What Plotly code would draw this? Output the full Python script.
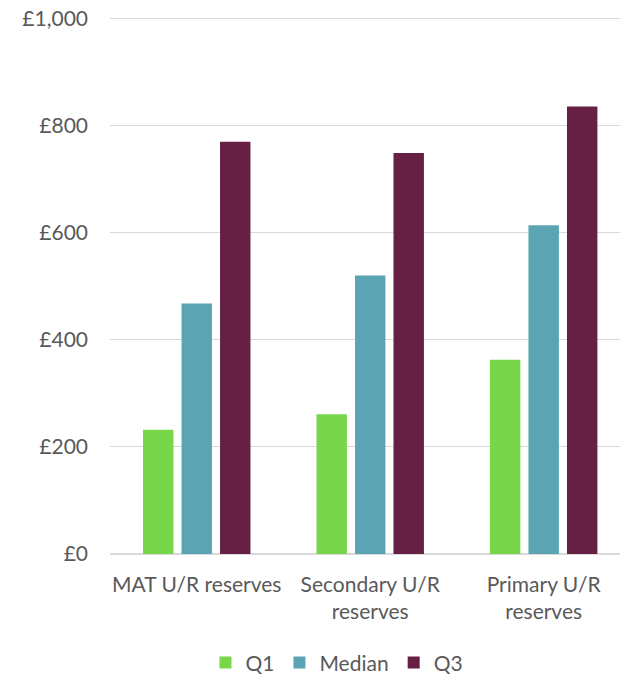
import plotly.graph_objects as go

categories = ["MAT U/R reserves", "Secondary U/R<br>reserves", "Primary U/R<br>reserves"]
q1 = [232, 261, 363]
median = [468, 520, 614]
q3 = [770, 749, 836]

series = [
    ("Q1", q1, "#78D64B"),
    ("Median", median, "#5BA4B4"),
    ("Q3", q3, "#652044"),
]

FONT = "Lato"
GREY = "#595959"
SIZE = 21

fig = go.Figure()
for name, vals, color in series:
    fig.add_trace(
        go.Bar(
            x=list(range(len(categories))),
            y=vals,
            name=name,
            marker={"color": color, "line": {"width": 0}},
        )
    )

fig.update_layout(
    width=620,
    height=677,
    margin={"l": 110, "r": 0, "t": 17, "b": 123},
    paper_bgcolor="white",
    plot_bgcolor="white",
    barmode="group",
    bargap=0.334,
    bargroupgap=0.21,
    font={"family": FONT, "size": SIZE, "color": GREY},
    showlegend=True,
    legend={
        "orientation": "h",
        "x": 0.445,
        "xanchor": "center",
        "yref": "container",
        "y": 0.021,
        "yanchor": "middle",
        "font": {"size": SIZE, "color": GREY},
        "traceorder": "normal",
        "itemwidth": 30,
    },
)

fig.update_xaxes(
    tickmode="array",
    tickvals=list(range(len(categories))),
    ticktext=categories,
    range=[-0.5, 2.44],
    showgrid=False,
    showline=False,
    zeroline=False,
    ticks="",
    automargin=False,
    ticklabelstandoff=16,
    tickfont={"size": SIZE, "color": GREY},
)

# range goes a hair past 1000 so the top gridline is not clipped
fig.update_yaxes(
    range=[0, 1003],
    dtick=200,
    tickprefix="£",
    tickformat=",.0f",
    showgrid=True,
    gridcolor="#D9D9D9",
    gridwidth=1,
    zeroline=True,
    zerolinecolor="#D9D9D9",
    zerolinewidth=2,
    showline=False,
    ticks="",
    automargin=False,
    ticklabeloverflow="allow",
    ticklabelstandoff=21,
    tickfont={"size": SIZE, "color": GREY},
)

# drop the default 8px body margin so the figure fills the window exactly
fig.write_html(
    "out.html",
    config={"displayModeBar": False},
    post_script="document.body.style.margin = '0';",
)
